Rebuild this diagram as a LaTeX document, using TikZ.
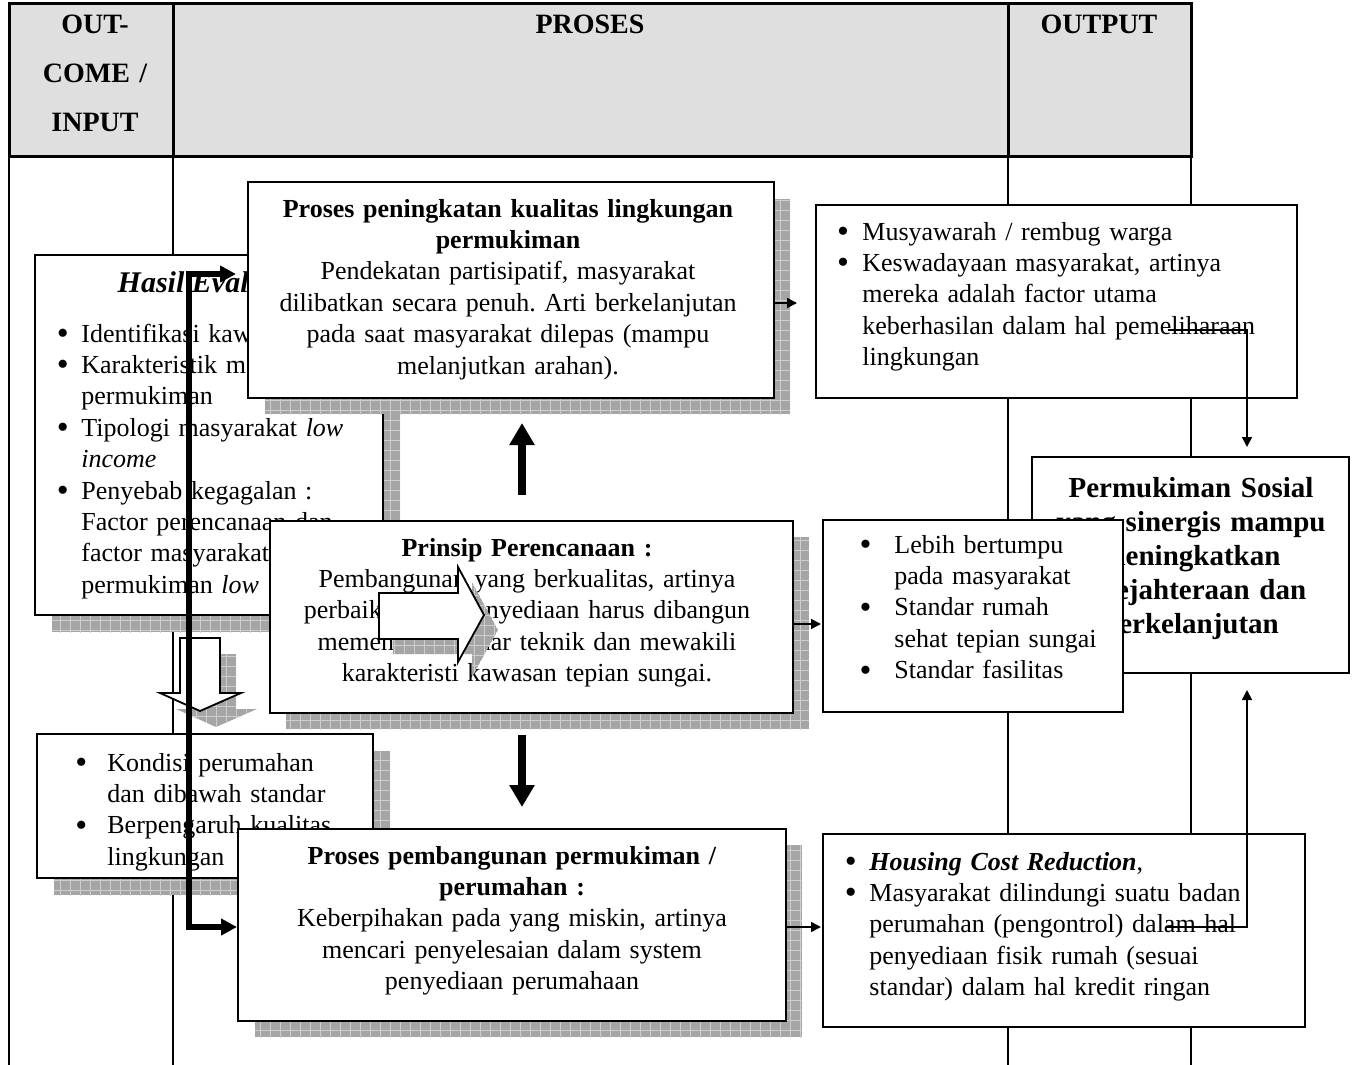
\documentclass[tikz,border=0pt]{standalone}
\usepackage{fontspec}
\setmainfont{Liberation Serif}
\usetikzlibrary{arrows.meta,fit}
\definecolor{headgray}{RGB}{223,223,223}
\definecolor{shadowc}{RGB}{165,165,165}
\definecolor{shadowln}{RGB}{205,205,205}
\newlength\bgap
\newcommand\bul{\raisebox{-1.2pt}{\fontsize{17}{0}\selectfont\textbullet}}
\newcommand\BL[1]{\noindent\llap{\bul\hspace{\bgap}}#1\par}
\newcommand\BJ[1]{\noindent\llap{\bul\hspace{\bgap}}\makebox[\hsize][s]{#1}\par}
\newcommand\CL[1]{\noindent #1\par}
\newcommand\CJ[1]{\noindent\makebox[\hsize][s]{#1}\par}
\newcommand\shadowpoly[1]{%
  \begin{scope}
    \clip #1;
    \fill[shadowc] #1;
    \draw[shadowln, line width=0.4pt, step=5pt] (0,0) grid (1400,1100);
  \end{scope}}
\frenchspacing
\begin{document}
\frenchspacing
\begin{tikzpicture}[x=0.5pt,y=-0.5pt,
  box/.style={draw, fill=white, line width=0.9pt, inner sep=0pt},
  body/.style={inner sep=0pt, font=\fontsize{13}{15.7}\selectfont},
  ctext/.style={body, align=center, anchor=base},
  ltext/.style={body, anchor=base west, align=left},
  head/.style={inner sep=0pt, font=\fontsize{14}{24.5}\selectfont\bfseries, align=center, anchor=base},
  thinarr/.style={line width=0.8pt, -{Triangle[length=5pt,width=5pt]}},
  bigarrow/.style={line width=4pt, -{Triangle[length=11pt,width=12pt]}},
  leftarrow/.style={line width=3pt, {Triangle[length=8pt,width=8pt]}-{Triangle[length=8pt,width=8pt]}},
  tab/.style={line width=0.9pt},
  hollow/.style={draw, fill=white, line width=0.9pt, line join=miter}
]
\useasboundingbox (0,0) rectangle (1355,1065);

% ---------- table ----------
\fill[headgray] (9,4) rectangle (1191,157);
\draw[tab] (9,157) -- (9,1065) (173,157) -- (173,1065) (1008,157) -- (1008,1065) (1191,157) -- (1191,1065);
\draw[line width=1.5pt] (9,4) rectangle (1191,157);
\draw[line width=1.5pt] (173,4) -- (173,157) (1008,4) -- (1008,157);
\node[head, text width=78pt] (hIn) at (95,34) {OUT-\\COME /\\INPUT};
\node[head] (hPro) at (590,34) {PROSES};
\node[head] (hOut) at (1099,34) {OUTPUT};

% ---------- left: Hasil Evaluasi ----------
\shadowpoly{(52,272) rectangle (400,632)}
\node[box, fit={(35,255) (383,615)}] (L1) {};
\node[body, anchor=base, font=\fontsize{15}{16}\selectfont\bfseries\itshape] (L1h) at (209,292) {Hasil Evaluasi};
\node[ltext, text width=140.5pt] (L1t) at (81,342) {\setlength\bgap{6.3pt}%
\BL{Identifikasi kawasan}
\BJ{Karakteristik masyarakat}
\CL{permukiman}
\BJ{Tipologi masyarakat \textit{low}}
\CL{\textit{income}}
\BL{Penyebab kegagalan :}
\CJ{Factor perencanaan dan}
\CJ{factor masyarakat}
\CL{permukiman \textit{low income}}};

% hollow down arrow
\begin{scope}[shift={(16,16)}]
\shadowpoly{(180,638) -- (220,638) -- (220,693) -- (241,693) -- (200,711) -- (160,693) -- (180,693) -- cycle}
\end{scope}
\path[hollow] (180,638) -- (220,638) -- (220,693) -- (241,693) -- (200,711) -- (160,693) -- (180,693) -- cycle;

% ---------- left: kondisi ----------
\shadowpoly{(54,751) rectangle (390,895)}
\node[box, fit={(37,734) (373,878)}] (L2) {};
\node[ltext, text width=123pt] (L2t) at (107,771) {\setlength\bgap{10pt}%
\BJ{Kondisi perumahan}
\CL{dan dibawah standar}
\BJ{Berpengaruh kualitas}
\CL{lingkungan}};

% ---------- process boxes ----------
\shadowpoly{(265,199) rectangle (790,414)}
\node[box, fit={(248,182) (774,398)}] (P1) {};
\node[ctext, text width=255pt] (P1t) at (508,217) {\textbf{Proses peningkatan kualitas lingkungan}\\\textbf{permukiman}\\Pendekatan partisipatif, masyarakat\\dilibatkan secara penuh. Arti berkelanjutan\\pada saat masyarakat dilepas (mampu\\melanjutkan arahan).};

\shadowpoly{(286,537) rectangle (809,729)}
\node[box, fit={(270,521) (793,713)}] (P2) {};
\node[ctext, text width=255pt] (P2t) at (527,556) {\textbf{Prinsip Perencanaan :}\\Pembangunan yang berkualitas, artinya\\perbaikan dan penyediaan harus dibangun\\memenuhi standar teknik dan mewakili\\karakteristi kawasan tepian sungai.};

% hollow right arrow
\begin{scope}[shift={(14,15)}]
\shadowpoly{(379,593) -- (458,593) -- (458,567) -- (484,615) -- (458,662) -- (458,639) -- (379,639) -- cycle}
\end{scope}
\path[hollow] (379,593) -- (458,593) -- (458,567) -- (484,615) -- (458,662) -- (458,639) -- (379,639) -- cycle;

\shadowpoly{(255,845) rectangle (802,1037)}
\node[box, fit={(238,829) (786,1021)}] (P3) {};
\node[ctext, text width=255pt] (P3t) at (512,864) {\textbf{Proses pembangunan permukiman /}\\\textbf{perumahan :}\\Keberpihakan pada yang miskin, artinya\\mencari penyelesaian dalam system\\penyediaan perumahaan};

% ---------- output boxes ----------
\node[box, fit={(1032,457) (1349,673)}] (F) {};
\node[ctext, text width=155pt, font=\fontsize{14.5}{17}\selectfont\bfseries] (Ft) at (1191,497) {Permukiman Sosial\\yang sinergis mampu\\meningkatkan\\kesejahteraan dan\\berkelanjutan};

\node[box, fit={(816,205) (1297,398)}] (R1) {};
\node[ltext, text width=215pt] (R1t) at (862,240) {\setlength\bgap{6.7pt}%
\BL{Musyawarah / rembug warga}
\BL{Keswadayaan masyarakat, artinya}
\CL{mereka adalah factor utama}
\CL{keberhasilan dalam hal pemeliharaan}
\CL{lingkungan}};

\node[box, fit={(823,520) (1123,712)}] (R2) {};
\node[ltext, text width=110pt] (R2t) at (894,553) {\setlength\bgap{11.5pt}%
\BL{Lebih bertumpu}
\CL{pada masyarakat}
\BL{Standar rumah}
\CL{sehat tepian sungai}
\BL{Standar fasilitas}};

\node[box, fit={(823,834) (1305,1027)}] (R3) {};
\node[ltext, text width=207.5pt] (R3t) at (869,870) {\setlength\bgap{6.3pt}%
\BL{\textbf{\textit{Housing Cost Reduction}},}
\BJ{Masyarakat dilindungi suatu badan}
\CJ{perumahan (pengontrol) dalam hal}
\CJ{penyediaan fisik rumah (sesuai}
\CL{standar) dalam hal kredit ringan}};

% ---------- connectors ----------
\coordinate (upS) at (522,495);
\coordinate (upE) at (522,423);
\coordinate (dnS) at (522,735);
\coordinate (dnE) at (522,807);
\draw[bigarrow] (upS) -- (upE);
\draw[bigarrow] (dnS) -- (dnE);

\coordinate (p1r) at (774,303);
\coordinate (r1l) at (797,303);
\coordinate (p2r) at (793,624);
\coordinate (r2l) at (821,624);
\coordinate (p3r) at (786,927);
\coordinate (r3l) at (821,927);
\draw[thinarr] (p1r) -- (r1l);
\draw[thinarr] (p2r) -- (r2l);
\draw[thinarr] (p3r) -- (r3l);

\coordinate (r1s) at (1168,330);
\coordinate (ftop) at (1247,447);
\coordinate (r3s) at (1166,927);
\coordinate (fbot) at (1247,690);
\draw[thinarr] (r1s) -| (ftop);
\draw[thinarr] (r3s) -| (fbot);

\coordinate (lA) at (236,274);
\coordinate (lB) at (189,274);
\coordinate (lC) at (189,927);
\coordinate (lD) at (237,927);
\draw[leftarrow] (lA) -- (lB) -- (lC) -- (lD);
\end{tikzpicture}
\end{document}
